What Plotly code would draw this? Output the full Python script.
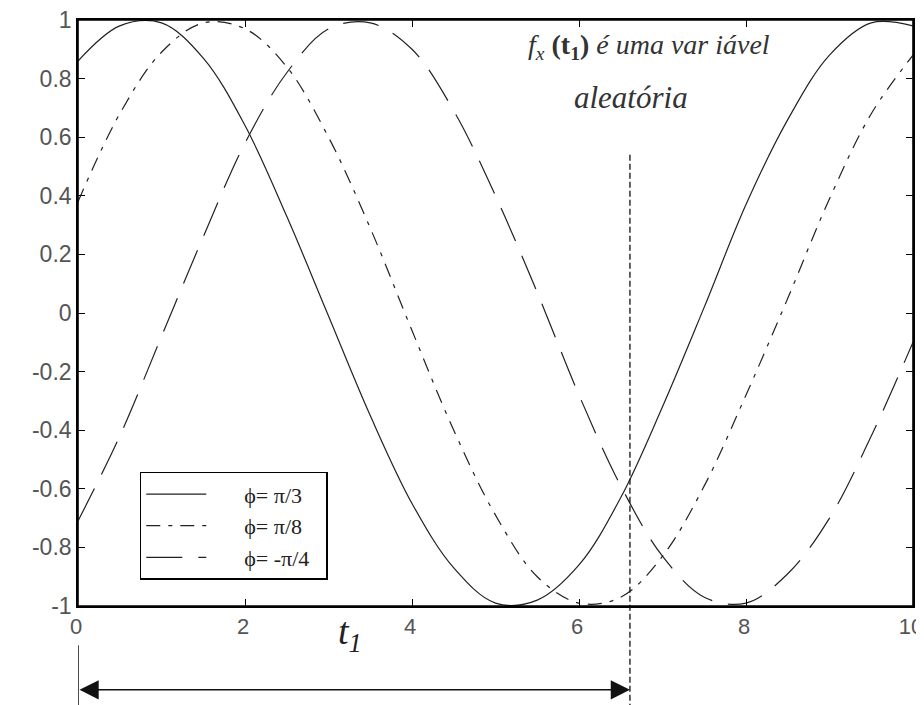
import plotly.graph_objects as go

# tempo (eixo x) e as tres curvas
t = [0, 0.5, 1, 1.5, 2, 2.5, 3, 3.5, 4, 4.5, 5, 5.5, 6, 6.5, 7, 7.5, 8, 8.5, 9, 9.5, 10]
fase_pi_3 = [0.86, 0.98, 0.99, 0.87, 0.64, 0.33, -0.01, -0.35, -0.65, -0.87, -0.99,
             -0.98, -0.86, -0.63, -0.32, 0.02, 0.37, 0.66, 0.88, 0.99, 0.98]
fase_pi_8 = [0.38, 0.68, 0.89, 0.99, 0.97, 0.84, 0.60, 0.29, -0.06, -0.40, -0.69,
             -0.90, -0.99, -0.97, -0.83, -0.59, -0.28, 0.05, 0.39, 0.68, 0.88]
fase_m_pi_4 = [-0.71, -0.42, -0.08, 0.26, 0.58, 0.82, 0.97, 0.99, 0.90, 0.69, 0.40,
               0.07, -0.28, -0.59, -0.83, -0.97, -0.99, -0.89, -0.70, -0.42, -0.10]

nomes = ['\u03d5= \u03c0/3', '\u03d5= \u03c0/8', '\u03d5= -\u03c0/4']
x_ticks = [0, 2, 4, 6, 8, 10]
y_ticks = [-1, -0.8, -0.6, -0.4, -0.2, 0, 0.2, 0.4, 0.6, 0.8, 1]
y_tick_labels = ['-1', '-0.8', '-0.6', '-0.4', '-0.2', '0', '0.2', '0.4', '0.6', '0.8', '1']

t1 = 6.61       # instante marcado pela linha vertical
t1_topo = 0.54  # onde comeca a linha tracejada vertical

cor = '#222222'
fig = go.Figure()

# espaco extra antes do texto, a amostra da legenda no original e mais longa
recuo = '\u2003\u2002'
estilos = ['solid', '14px,8px,4px,8px', '36px,16px']
for nome, serie, dash in zip(nomes, [fase_pi_3, fase_pi_8, fase_m_pi_4], estilos):
    fig.add_trace(
        go.Scatter(
            x=t, y=serie, mode='lines', name=recuo + nome + '\u2002',
            line={'color': cor, 'width': 1.2, 'dash': dash, 'shape': 'spline'},
        )
    )

eixo = dict(
    showline=True, linecolor='black', linewidth=1.6, mirror='ticks',
    ticks='inside', ticklen=7, tickwidth=1.2, tickcolor='black',
    showgrid=False, zeroline=False, automargin=False, ticklabeloverflow='allow',
)

fig.update_xaxes(
    range=[0, 10], tickvals=x_ticks, ticklabelshift=-2,
    tickfont={'family': 'Liberation Sans', 'size': 22, 'color': '#555'}, **eixo,
)
fig.update_yaxes(
    range=[-1, 1], tickvals=y_ticks, ticktext=y_tick_labels,
    tickfont={'family': 'Liberation Sans', 'size': 23, 'color': '#555'}, **eixo,
)

fonte_texto = {'family': 'Liberation Serif', 'size': 28, 'color': '#333'}
fig.add_annotation(
    x=6.84, y=0.908, xref='x', yref='y', showarrow=False, font=fonte_texto,
    text='<i>f</i><sub><i>x</i></sub> <b>(t<sub>1</sub>)</b> <i>é uma var iável</i>',
)
fig.add_annotation(
    x=6.62, y=0.737, xref='x', yref='y', showarrow=False,
    font={'family': 'Liberation Serif', 'size': 31, 'color': '#333'},
    text='<i>aleatória</i>',
)
fig.add_annotation(
    x=3.26, y=-0.092, xref='x', yref='paper', showarrow=False,
    font={'family': 'Liberation Serif', 'size': 38, 'color': '#222'},
    text='<i>t</i><sub><i>1</i></sub>',
)

# seta dupla abaixo do eixo
fig.add_annotation(
    x=t1, y=-0.143, xref='x', yref='paper', ax=0, axref='x', ay=0, ayref='pixel',
    text='', showarrow=True, arrowside='end+start', arrowhead=2,
    arrowsize=2.4, arrowwidth=1.6, arrowcolor='#111', standoff=0, startstandoff=0,
)
# linha vertical tracejada em t1
fig.add_shape(
    type='line', xref='x', yref='paper', x0=t1, x1=t1,
    y0=(t1_topo + 1) / 2, y1=-0.17, line={'color': '#111', 'width': 1.3, 'dash': '6px,3px'},
)
fig.add_shape(
    type='line', xref='x', yref='paper', x0=0, x1=0,
    y0=-0.067, y1=-0.17, line={'color': '#111', 'width': 1.5},
)
# moldura do grafico (garante a linha de cima)
fig.add_shape(
    type='rect', xref='paper', yref='paper', x0=0, x1=1, y0=0, y1=1,
    line={'color': 'black', 'width': 1.6},
)

# a pagina tem margem de 8 px, por isso a figura e um pouco menor que a janela
fig.update_layout(
    width=916, height=697,
    margin={'l': 70, 'r': 11, 't': 12, 'b': 99},
    paper_bgcolor='white', plot_bgcolor='white',
    showlegend=True,
    legend={
        'x': 0.074, 'y': 0.229, 'xanchor': 'left', 'yanchor': 'top',
        'bordercolor': 'black', 'borderwidth': 1.5, 'bgcolor': 'white',
        'font': {'family': 'Liberation Serif', 'size': 22, 'color': '#222'},
        'itemwidth': 60, 'tracegroupgap': 2,
    },
)

fig.write_html('out.html')
